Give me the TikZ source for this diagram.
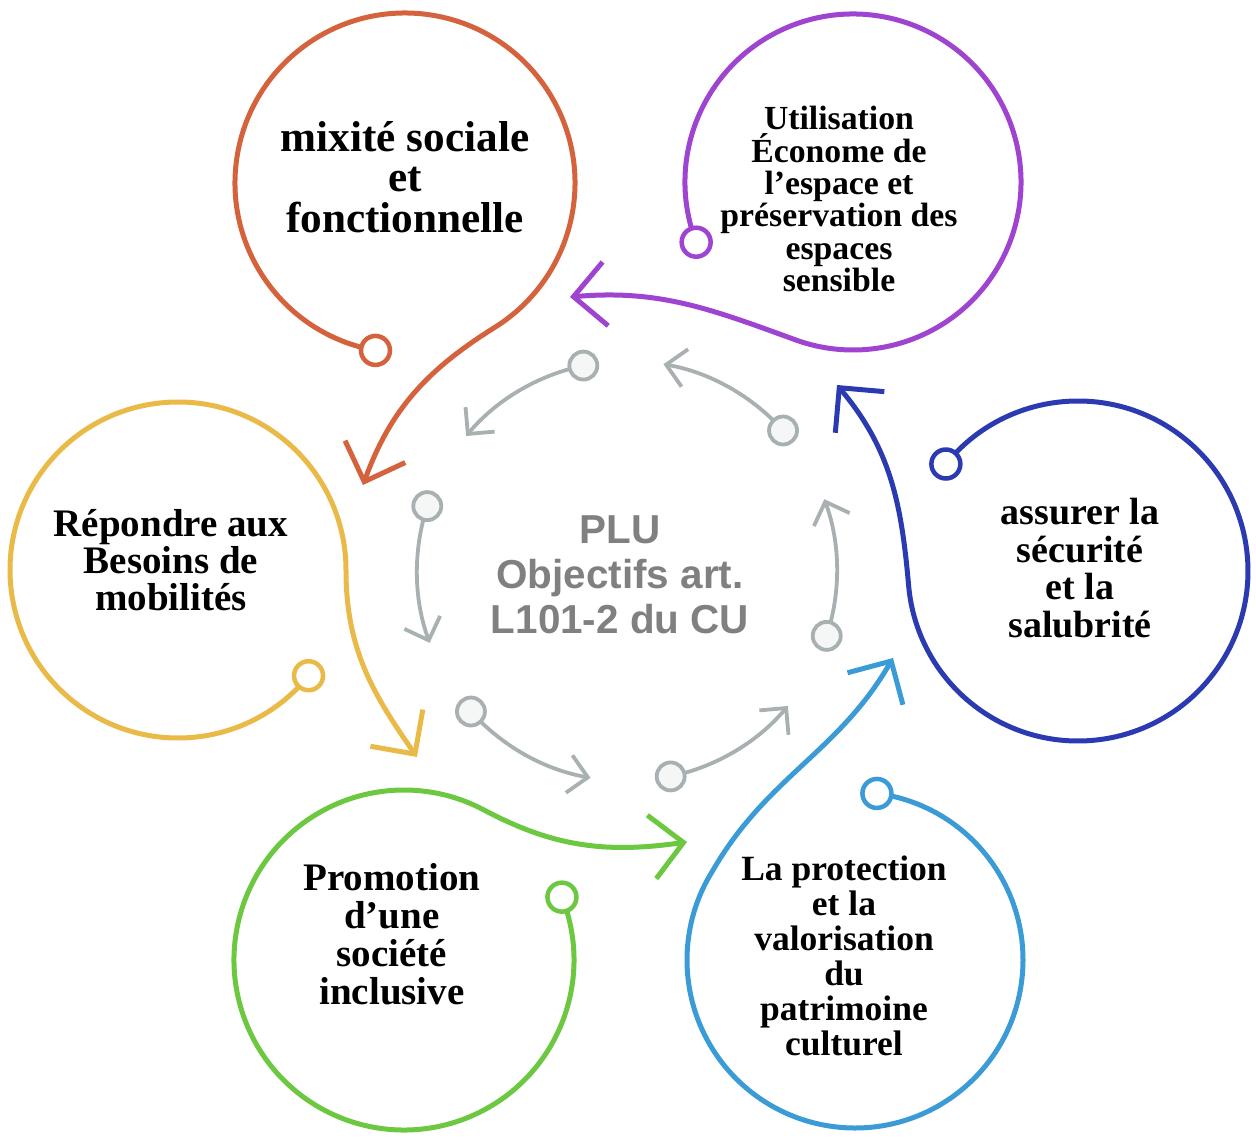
\documentclass[tikz,border=0pt]{standalone}
\usepackage{fontspec}
\setmainfont{Liberation Serif}
\newfontfamily\plusfont{Liberation Sans}
\usetikzlibrary{arrows.meta,backgrounds}
\definecolor{rust}{RGB}{212,98,60}
\definecolor{plum}{RGB}{158,68,208}
\definecolor{mustard}{RGB}{234,186,72}
\definecolor{navy}{RGB}{44,58,178}
\definecolor{sky}{RGB}{58,155,214}
\definecolor{leaf}{RGB}{108,200,64}
\definecolor{ash}{RGB}{168,176,178}
\definecolor{slate}{RGB}{128,128,128}
\tikzset{
  loopline/.style={draw=#1,line width=0.5mm,line cap=round,
    -{Straight Barb[length=3.2mm,width=6.4mm]}},
  knob/.style={circle,draw=#1,fill=white,line width=0.45mm,
    minimum size=2.9mm,inner sep=0pt},
  garc/.style={draw=ash,line width=0.38mm,line cap=round,
    -{Straight Barb[length=1.9mm,width=3.8mm]}},
  gknob/.style={circle,draw=ash,fill=ash!12,line width=0.38mm,
    minimum size=2.8mm,inner sep=0pt},
  topic/.style 2 args={align=center,font=\bfseries\fontsize{#1}{#2}\selectfont},
  plu/.style={align=center,text=slate,font=\plusfont\bfseries\fontsize{11.5}{12.8}\selectfont},
}
\begin{document}
\begin{tikzpicture}[x=0.1mm,y=0.1mm]
\useasboundingbox (0,0) rectangle (1256,-1139);
% centres of the loops and of the grey ring
\coordinate (cMix) at (405,-183);
\coordinate (cUse) at (853,-182);
\coordinate (cMob) at (178,-570);
\coordinate (cSaf) at (1078,-571);
\coordinate (cInc) at (404,-960);
\coordinate (cPat) at (855,-960);
\coordinate (ring) at (627,-571);

\node[knob=rust] (mixK) at ([shift={(260:170)}]cMix) {};
\node[knob=plum] (useK) at ([shift={(201:168)}]cUse) {};
\node[knob=mustard] (mobK) at ([shift={(321:168)}]cMob) {};
\node[knob=navy] (safK) at ([shift={(141:170)}]cSaf) {};
\node[knob=leaf] (incK) at ([shift={(21.7:170)}]cInc) {};
\node[knob=sky] (patK) at ([shift={(82.5:168)}]cPat) {};

\coordinate (mixTip) at (363,-485);
\coordinate (useTip) at (570,-297);
\coordinate (mobTip) at (417,-757);
\coordinate (safTip) at (837,-385);
\coordinate (incTip) at (687,-842);
\coordinate (patTip) at (893,-658);

\node[topic={12.3}{11.6}] (mix) at (405,-177) {mixité sociale\\et\\fonctionnelle};
\node[topic={9.6}{9.2}] (use) at (839,-199) {Utilisation\\Économe de\\l’espace et\\préservation des\\espaces\\sensible};
\node[topic={11.1}{10.6}] (mob) at (171,-560) {Répondre aux\\Besoins de\\mobilités};
\node[topic={10.8}{10.7}] (saf) at (1080,-568) {assurer la\\sécurité\\et la\\salubrité};
\node[topic={11.1}{10.8}] (inc) at (392,-934) {Promotion\\d’une\\société\\inclusive};
\node[topic={10.1}{10}] (pat) at (844,-956) {La protection\\et la\\valorisation\\du\\patrimoine\\culturel};
\node[plu] (plu) at (620,-575) {PLU\\Objectifs art.\\L101-2 du CU};

\foreach \a [count=\i] in {42,102,...,342}
  \node[gknob] (g\i) at ([shift={(\a:210)}]ring) {};

\begin{scope}[on background layer]
  \draw[loopline=rust] (mixK.center) arc[start angle=260,end angle=-58,radius=170]
    to[out=212,in=70] (mixTip);
  \draw[loopline=plum] (useK.center) arc[start angle=201,end angle=-110,radius=168]
    to[out=160,in=5] (useTip);
  \draw[loopline=mustard] (mobK.center) arc[start angle=321,end angle=0,radius=168]
    to[out=-90,in=125] (mobTip);
  \draw[loopline=navy] (safK.center) arc[start angle=141,end angle=-175,radius=170]
    to[out=95,in=-50] (safTip);
  \draw[loopline=leaf] (incK.center) arc[start angle=21.7,end angle=-298,radius=170]
    to[out=-28,in=188] (incTip);
  \draw[loopline=sky] (patK.center) arc[start angle=82.5,end angle=-212,radius=168]
    to[out=60,in=-120] (patTip);
  \foreach \a [count=\i] in {42,102,...,342}
    \draw[garc] (g\i.center) arc[start angle=\a,delta angle=38,radius=210];
\end{scope}
\end{tikzpicture}
\end{document}
